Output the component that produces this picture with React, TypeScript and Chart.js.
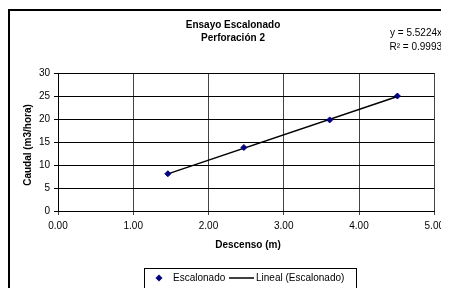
import React, { useEffect, useRef } from "react";
import { Chart, registerables } from "chart.js";

Chart.register(...registerables);

const descenso = [1.46, 2.47, 3.61, 4.51];
const caudal = [8.1, 13.8, 19.8, 25.0];
const slope = 5.5224;
const r2Text = "R² = 0.9993";
const eqText = "y = 5.5224x";
const titleLines = ["Ensayo Escalonado", "Perforación 2"];
const xTitle = "Descenso (m)";
const yTitle = "Caudal (m3/hora)";
const seriesName = "Escalonado";
const trendName = "Lineal (Escalonado)";

const FONT = "'Liberation Sans', Arial, sans-serif";

export default function App() {
  const ref = useRef<HTMLCanvasElement | null>(null);

  useEffect(() => {
    document.documentElement.style.overflow = "hidden";
    document.body.style.overflow = "hidden";
    if (!ref.current) return;
    const xmin = Math.min(...descenso);
    const xmax = Math.max(...descenso);
    const points = descenso.map((x, i) => ({ x, y: caudal[i] }));
    const trend = [
      { x: xmin, y: slope * xmin },
      { x: xmax, y: slope * xmax },
    ];

    const decor = {
      id: "decor",
      afterDraw(chart: any) {
        const ctx = chart.ctx as CanvasRenderingContext2D;
        ctx.save();
        ctx.strokeStyle = "#000";
        ctx.lineWidth = 2;
        ctx.beginPath();
        ctx.moveTo(1, 290);
        ctx.lineTo(1, 2);
        ctx.lineTo(441, 2);
        ctx.stroke();

        ctx.fillStyle = "#000";
        ctx.textBaseline = "middle";
        ctx.font = `bold 10px ${FONT}`;
        ctx.textAlign = "center";
        ctx.fillText(titleLines[0], 225, 17);
        ctx.fillText(titleLines[1], 225, 30);
        ctx.font = `10px ${FONT}`;
        ctx.textAlign = "right";
        ctx.fillText(eqText, 434, 25);
        ctx.fillText(r2Text, 434, 39);
        ctx.font = `bold 10px ${FONT}`;
        ctx.textAlign = "center";
        ctx.fillText(xTitle, 240, 237);
        ctx.save();
        ctx.translate(20, 137);
        ctx.rotate(-Math.PI / 2);
        ctx.fillText(yTitle, 0, 0);
        ctx.restore();

        ctx.lineWidth = 1;
        ctx.strokeStyle = "#000";
        ctx.strokeRect(136.5, 260.5, 212, 40);
        const ly = 270;
        ctx.fillStyle = "#000080";
        ctx.beginPath();
        ctx.moveTo(151, ly - 3.5);
        ctx.lineTo(154.5, ly);
        ctx.lineTo(151, ly + 3.5);
        ctx.lineTo(147.5, ly);
        ctx.closePath();
        ctx.fill();
        ctx.fillStyle = "#000";
        ctx.font = `10px ${FONT}`;
        ctx.textAlign = "left";
        ctx.fillText(seriesName, 165, ly);
        ctx.lineWidth = 1.5;
        ctx.beginPath();
        ctx.moveTo(221, ly);
        ctx.lineTo(246, ly);
        ctx.stroke();
        ctx.fillText(trendName, 248, ly);
        ctx.restore();
      },
    };

    const chart = new Chart(ref.current, {
      type: "scatter",
      data: {
        datasets: [
          {
            label: seriesName,
            data: points,
            pointStyle: "rectRot",
            pointRadius: 3,
            backgroundColor: "#000080",
            borderColor: "#000080",
            borderWidth: 1,
            showLine: false,
            order: 1,
          },
          {
            label: trendName,
            data: trend,
            showLine: true,
            pointRadius: 0,
            borderColor: "#000",
            borderWidth: 1.5,
            order: 2,
          },
        ],
      },
      options: {
        responsive: false,
        animation: false,
        layout: { padding: { top: 65, right: 12, left: 0, bottom: 0 } },
        plugins: {
          legend: { display: false },
          title: { display: false },
          tooltip: { enabled: false },
        },
        scales: {
          x: {
            type: "linear",
            min: 0,
            max: 5,
            ticks: {
              stepSize: 1,
              padding: 5,
              color: "#000",
              font: { family: FONT, size: 10 },
              callback: (v: any) => Number(v).toFixed(2),
            },
            grid: { color: "#444", lineWidth: 1, tickLength: 4 },
            border: { color: "#000", width: 1 },
            afterFit: (s: any) => {
              s.height = 77;
            },
          },
          y: {
            min: 0,
            max: 30,
            ticks: {
              stepSize: 5,
              padding: 4,
              color: "#000",
              font: { family: FONT, size: 10 },
            },
            grid: { color: "#000", lineWidth: 1, tickLength: 4 },
            border: { color: "#000", width: 1 },
            afterFit: (s: any) => {
              s.width = 50;
            },
          },
        },
      },
      plugins: [decor],
    });
    return () => chart.destroy();
  }, []);

  return (
    <canvas
      ref={ref}
      width={441}
      height={280}
      style={{ display: "block", width: 441, height: 280 }}
    />
  );
}
